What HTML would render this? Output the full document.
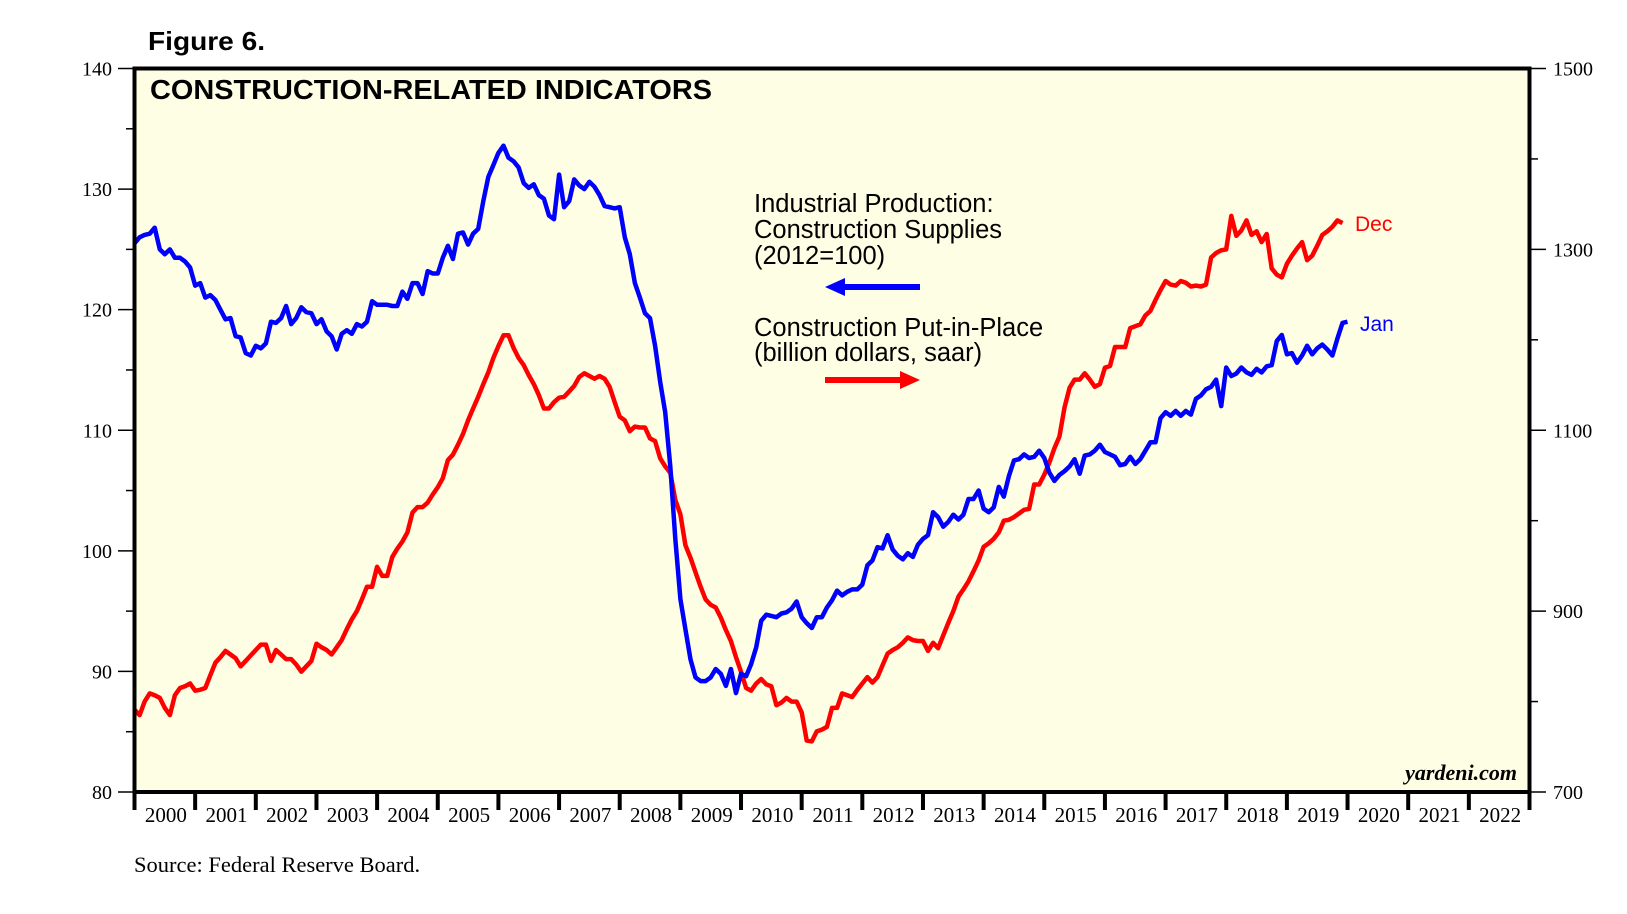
<!DOCTYPE html>
<html><head><meta charset="utf-8"><style>
html,body{margin:0;padding:0;background:#fff;}
svg{display:block;}
</style></head><body>
<svg id="chart" width="1627" height="914" viewBox="0 0 1627 914" xmlns="http://www.w3.org/2000/svg">
<rect x="0" y="0" width="1627" height="914" fill="#fff"/>
<text x="148" y="50" font-family="Liberation Sans, sans-serif" font-weight="bold" font-size="26" textLength="117" lengthAdjust="spacingAndGlyphs">Figure 6.</text>
<rect x="134.5" y="68.5" width="1395" height="723.5" fill="#fefee4"/>
<g id="ticks"></g>
<g id="series"></g>
<rect x="134.5" y="68.5" width="1395" height="723.5" fill="none" stroke="#000" stroke-width="4"/>
<text x="150" y="99" font-family="Liberation Sans, sans-serif" font-weight="bold" font-size="28" textLength="562" lengthAdjust="spacingAndGlyphs">CONSTRUCTION-RELATED INDICATORS</text>
<g font-family="Liberation Sans, sans-serif" font-size="25.5" fill="#000">
<text x="754" y="212">Industrial Production:</text>
<text x="754" y="238">Construction Supplies</text>
<text x="754" y="264">(2012=100)</text>
</g>
<g>
<line x1="920" y1="287" x2="840" y2="287" stroke="#0000ff" stroke-width="6"/>
<polygon points="825,287 845,278 845,296" fill="#0000ff"/>
</g>
<g font-family="Liberation Sans, sans-serif" font-size="25.5" fill="#000">
<text x="754" y="336">Construction Put-in-Place</text>
<text x="754" y="361">(billion dollars, saar)</text>
</g>
<g>
<line x1="825" y1="380" x2="905" y2="380" stroke="#ff0000" stroke-width="6"/>
<polygon points="920,380 900,371 900,389" fill="#ff0000"/>
</g>
<text x="1355" y="231" font-family="Liberation Sans, sans-serif" font-size="21" fill="#ff0000">Dec</text>
<text x="1360" y="331" font-family="Liberation Sans, sans-serif" font-size="21" fill="#0000ff">Jan</text>
<text x="1517" y="780" text-anchor="end" font-family="Liberation Serif, serif" font-weight="bold" font-style="italic" font-size="22">yardeni.com</text>
<text x="134" y="872" font-family="Liberation Serif, serif" font-size="22.5">Source: Federal Reserve Board.</text>
</svg>
<script>
const years = [2000,2001,2002,2003,2004,2005,2006,2007,2008,2009,2010,2011,2012,2013,2014,2015,2016,2017,2018,2019,2020,2021,2022];
const leftTicks = [80,90,100,110,120,130,140];
const rightTicks = [700,900,1100,1300,1500];
const ipStart = 2000;
const ipSupplies = [
125.5,126,126.2,126.3,126.8,125,124.6,125,124.3,124.3,124,123.5,
122,122.2,121,121.2,120.8,120,119.2,119.3,117.8,117.7,116.4,116.2,
117,116.8,117.2,119,118.9,119.3,120.3,118.8,119.3,120.2,119.8,119.7,
118.8,119.2,118.2,117.8,116.7,118,118.3,118,118.8,118.6,119,120.7,
120.4,120.4,120.4,120.3,120.3,121.5,120.9,122.2,122.2,121.3,123.2,123,
123,124.3,125.3,124.2,126.3,126.4,125.4,126.3,126.7,129,131,132,
133,133.6,132.6,132.3,131.8,130.5,130.1,130.4,129.5,129.2,127.8,127.5,
131.2,128.5,129,130.8,130.3,130,130.6,130.2,129.5,128.6,128.5,128.4,
128.5,126,124.6,122.2,121,119.7,119.3,117,114,111.5,107,101,
96,93.5,91,89.5,89.2,89.2,89.5,90.2,89.8,88.8,90.2,88.2,
89.8,89.6,90.6,92,94.2,94.7,94.6,94.5,94.8,94.9,95.2,95.8,
94.5,94,93.6,94.5,94.5,95.3,95.9,96.7,96.3,96.6,96.8,96.8,
97.2,98.8,99.2,100.3,100.2,101.3,100.1,99.6,99.3,99.8,99.5,100.5,
101,101.3,103.2,102.8,102,102.4,103,102.6,103,104.3,104.3,105,
103.5,103.2,103.6,105.3,104.5,106.2,107.5,107.6,108,107.7,107.8,108.3,
107.7,106.5,105.8,106.3,106.6,107,107.6,106.4,107.9,108,108.3,108.8,
108.2,108,107.8,107.1,107.2,107.8,107.2,107.6,108.3,109,109,111,
111.5,111.2,111.6,111.2,111.6,111.3,112.6,112.9,113.4,113.6,114.2,112,
115.2,114.5,114.7,115.2,114.8,114.6,115.1,114.8,115.3,115.4,117.4,117.9,
116.3,116.4,115.6,116.2,117,116.3,116.8,117.1,116.7,116.2,117.6,118.9,
119
];
const cpipStart = 2000;
const constructionPIP = [
791,785,800,809,807,804,793,785,807,815,817,820,
812,813,815,829,843,849,856,852,848,839,845,851,
857,863,863,845,857,852,847,847,841,833,839,845,
864,860,857,852,860,868,880,891,900,913,927,927,
949,939,939,960,969,977,987,1009,1015,1015,1020,1029,
1037,1047,1067,1073,1084,1096,1111,1124,1137,1151,1164,1180,
1193,1205,1205,1191,1180,1172,1161,1151,1139,1124,1124,1131,
1136,1137,1143,1149,1159,1163,1160,1157,1160,1157,1148,1131,
1115,1111,1099,1104,1103,1103,1091,1088,1069,1060,1053,1023,
1007,973,959,943,927,913,907,904,893,879,867,849,
833,815,812,820,825,819,817,796,799,804,800,800,
788,757,756,767,769,772,793,793,809,807,805,813,
820,827,821,827,840,853,857,860,865,871,868,867,
867,856,865,859,873,887,900,916,924,933,944,956,
971,975,980,987,1000,1001,1004,1008,1012,1013,1040,1040,
1051,1064,1080,1093,1125,1147,1156,1156,1163,1156,1148,1151,
1169,1171,1192,1192,1192,1213,1215,1217,1227,1232,1244,1255,
1265,1261,1260,1265,1263,1259,1260,1259,1261,1291,1296,1299,
1300,1337,1315,1321,1332,1316,1320,1308,1317,1279,1272,1269,
1284,1293,1301,1308,1288,1293,1304,1316,1320,1325,1332,1329
];
const NS='http://www.w3.org/2000/svg';
const L=134.5,R=1529.5,T=68.5,B=792;
const yrW=(R-L)/years.length;
function xScale(t){return L+(t-years[0])*yrW;}
function yLeft(v){return B-(v-80)/(140-80)*(B-T);}
function yRight(v){return B-(v-700)/(1500-700)*(B-T);}
function mk(tag,attrs,parent){const e=document.createElementNS(NS,tag);for(const k in attrs)e.setAttribute(k,attrs[k]);parent.appendChild(e);return e;}
const tg=document.getElementById('ticks');
leftTicks.forEach((v,i)=>{
  const y=yLeft(v);
  const ln=mk('line',{x1:118,x2:134.5,y1:y,y2:y,stroke:'#000','stroke-width':1.5},tg);
  
  
  const t=mk('text',{x:112,y:y+7,'text-anchor':'end','font-family':'Liberation Serif, serif','font-size':20},tg);
  t.textContent=v;
  
  
  if(i<leftTicks.length-1){
    const ym=yLeft(v+5);
    const m=mk('line',{x1:126,x2:134.5,y1:ym,y2:ym,stroke:'#000','stroke-width':1.5},tg);
    
    
  }
});
rightTicks.forEach((v,i)=>{
  const y=yRight(v);
  const ln=mk('line',{x1:1529.5,x2:1546,y1:y,y2:y,stroke:'#000','stroke-width':1.5},tg);
  
  
  const t=mk('text',{x:1553,y:y+7,'font-family':'Liberation Serif, serif','font-size':20},tg);
  t.textContent=v;
  
  
  if(i<rightTicks.length-1){
    const ym=yRight(v+100);
    const m=mk('line',{x1:1529.5,x2:1538,y1:ym,y2:ym,stroke:'#000','stroke-width':1.5},tg);
    
    
  }
});
years.forEach((yv,i)=>{
  const x=xScale(yv);
  const tk=mk('line',{x1:x,x2:x,y1:B,y2:810,stroke:'#000','stroke-width':4},tg);
  
  
  const t=mk('text',{x:x+yrW/2+1,y:822,'text-anchor':'middle','font-family':'Liberation Serif, serif','font-size':21},tg);
  t.textContent=yv;
  
  
});
const endTk=mk('line',{x1:R,x2:R,y1:B,y2:810,stroke:'#000','stroke-width':4},tg);


const sg=document.getElementById('series');
function pathFor(arr,start,ys){return arr.map((v,i)=>(i?'L':'M')+xScale(start+i/12).toFixed(1)+','+ys(v).toFixed(1)).join(' ');}
const red=mk('path',{d:pathFor(constructionPIP,cpipStart,yRight),fill:'none',stroke:'#ff0000','stroke-width':4.5,'stroke-linejoin':'round'},sg);


const blue=mk('path',{d:pathFor(ipSupplies,ipStart,yLeft),fill:'none',stroke:'#0000ff','stroke-width':4.5,'stroke-linejoin':'round'},sg);


</script>
</body></html>
